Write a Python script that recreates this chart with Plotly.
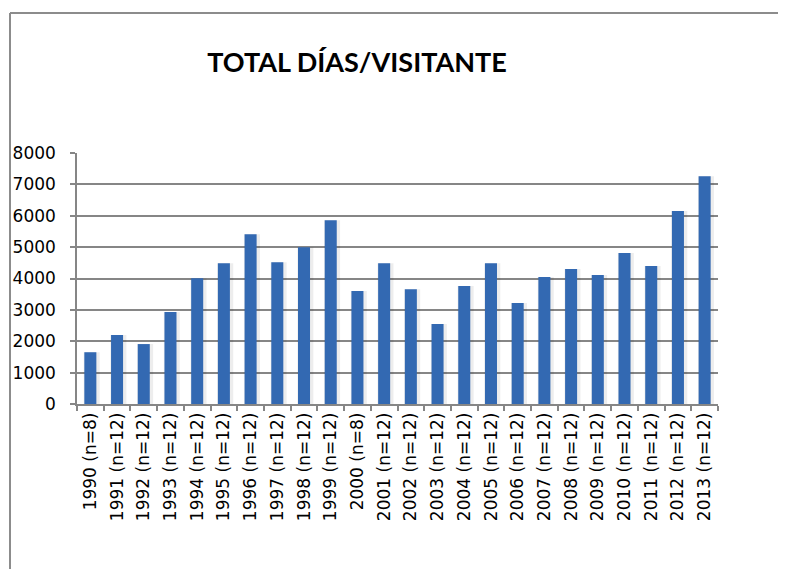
import plotly.graph_objects as go

# años con número de meses muestreados
categories = ["1990 (n=8)", "1991 (n=12)", "1992 (n=12)", "1993 (n=12)", "1994 (n=12)",
              "1995 (n=12)", "1996 (n=12)", "1997 (n=12)", "1998 (n=12)", "1999 (n=12)",
              "2000 (n=8)", "2001 (n=12)", "2002 (n=12)", "2003 (n=12)", "2004 (n=12)",
              "2005 (n=12)", "2006 (n=12)", "2007 (n=12)", "2008 (n=12)", "2009 (n=12)",
              "2010 (n=12)", "2011 (n=12)", "2012 (n=12)", "2013 (n=12)"]
dias_visitante = [1650, 2200, 1910, 2930, 4010, 4490, 5410, 4520, 5000, 5860,
                  3600, 4490, 3660, 2550, 3760, 4490, 3220, 4050, 4300, 4110,
                  4810, 4400, 6150, 7260]
ytick_vals = [0, 1000, 2000, 3000, 4000, 5000, 6000, 7000, 8000]

W, H = 786, 569
OFF = 8  # margen del body de la página
L, R, T, B = 77 - OFF, 68 + OFF, 153 - OFF, 165 + OFF

fig = go.Figure()

# sombra suave detrás de las barras
fig.add_trace(go.Bar(x=categories, y=dias_visitante, width=0.6, offset=-0.25,
                     marker=dict(color="rgba(0,0,0,0.07)", line_width=0),
                     hoverinfo="skip", showlegend=False))
fig.add_trace(go.Bar(x=categories, y=dias_visitante, width=0.45,
                     marker=dict(color="#3369B2", line_width=0),
                     showlegend=False))

# marco del gráfico (esquina superior izquierda)
pw, ph = W - L - R, H - T - B
bx, by = 10 - OFF, 13 - OFF
fig.add_shape(type="line", xref="paper", yref="paper",
              x0=(bx - L) / pw, x1=(W + 5 - L) / pw,
              y0=(H - B - by) / ph, y1=(H - B - by) / ph,
              line=dict(color="#8c8c8c", width=2))
fig.add_shape(type="line", xref="paper", yref="paper",
              x0=(bx - L) / pw, x1=(bx - L) / pw,
              y0=(H - B - by) / ph, y1=(H - B - H - 5) / ph,
              line=dict(color="#8c8c8c", width=2))

fig.update_layout(
    width=W, height=H,
    margin=dict(l=L, r=R, t=T, b=B),
    paper_bgcolor="white", plot_bgcolor="white",
    barmode="overlay",
    title=dict(text="<b>TOTAL DÍAS/VISITANTE</b>", x=(357 - OFF) / W, xanchor="center",
               y=1 - (63 - OFF) / H, yanchor="middle",
               font=dict(family="Lato", size=27, color="black")),
    font=dict(family="DejaVu Sans", size=17, color="black"),
)
fig.update_xaxes(tickangle=-90, tickson="boundaries", ticks="outside", ticklen=5,
                 tickcolor="#868686", tickwidth=1.5, showline=True, linecolor="#868686",
                 linewidth=1.5, showgrid=False, tickfont=dict(size=17), automargin=False)
fig.update_yaxes(range=[0, 8000], tickvals=ytick_vals, ticks="outside", ticklen=5,
                 tickcolor="#868686", tickwidth=1.5, showline=True, linecolor="#868686",
                 linewidth=1.5, showgrid=True, gridcolor="#868686", gridwidth=1.5,
                 zeroline=False, ticklabelstandoff=11, tickfont=dict(size=17),
                 automargin=False)

fig.write_html("out.html")
